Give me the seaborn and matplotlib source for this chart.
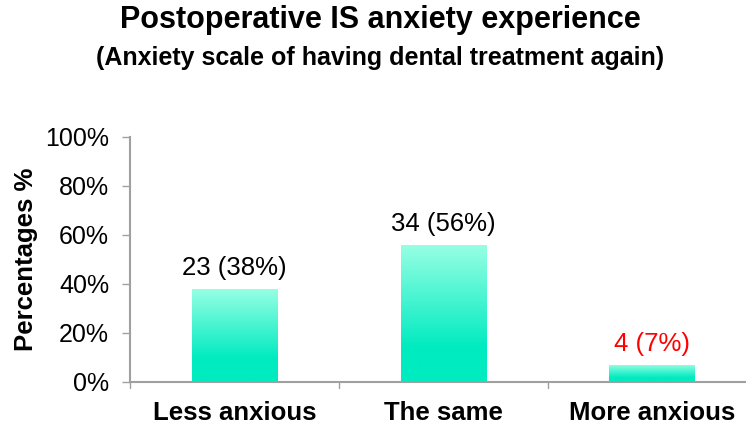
import numpy as np
import pandas as pd
import matplotlib
matplotlib.use("Agg")
import matplotlib.pyplot as plt
from matplotlib.colors import LinearSegmentedColormap
import seaborn as sns

categories = ["Less anxious", "The same", "More anxious"]
counts = [23, 34, 4]
percentages = [38, 56, 7]
label_colors = ["black", "black", "red"]
y_ticks = [0, 20, 40, 60, 80, 100]

sns.set_theme(style="white")
plt.rcParams["font.family"] = ["Liberation Sans", "DejaVu Sans"]
plt.rcParams["text.color"] = "black"
plt.rcParams["axes.labelcolor"] = "black"
plt.rcParams["xtick.color"] = "black"
plt.rcParams["ytick.color"] = "black"

df = pd.DataFrame({"category": categories, "pct": percentages})

fig = plt.figure(figsize=(7.46, 4.28), dpi=100)
ax = fig.add_axes([0.1743, 0.1075, 0.826, 0.5725])

sns.barplot(data=df, x="category", y="pct", ax=ax, width=0.41,
            color="#00EBC0", linewidth=0, saturation=1)

# vertical gradient fill for each bar
cmap = LinearSegmentedColormap.from_list(
    "mint", [(0.0, "#00EBC0"), (0.25, "#00EBC0"), (1.0, "#98FFE4")])
grad = np.linspace(0, 1, 256).reshape(-1, 1)
for patch in ax.patches:
    x0, y0 = patch.get_x(), patch.get_y()
    w, h = patch.get_width(), patch.get_height()
    im = ax.imshow(grad, cmap=cmap, aspect="auto", origin="lower",
                   extent=(x0, x0 + w, y0, y0 + h), zorder=2)
    im.set_clip_path(patch)
    patch.set_facecolor("none")

for i, (c, p, col) in enumerate(zip(counts, percentages, label_colors)):
    ax.text(i, p + 3.5, f"{c} ({p}%)", ha="center", va="bottom",
            fontsize=18.5, color=col)

ax.set_xlim(-0.5, 2.45)
ax.set_ylim(0, 100)
ax.set_yticks(y_ticks)
ax.set_yticklabels([f"{t}%" for t in y_ticks], fontsize=18)
ax.set_xticks(range(len(categories)))
ax.set_xticklabels(categories, fontsize=18.5, fontweight="bold")
ax.tick_params(axis="x", length=0, pad=14)
ax.tick_params(axis="y", length=6, width=1, color="#A0A0A0", left=True,
               labelcolor="black", pad=9)

# category separator ticks on the x axis
for xb in [-0.5, 0.5, 1.5]:
    ax.plot([xb, xb], [0, -2.5], color="#A0A0A0", lw=1, clip_on=False)

ax.set_xlabel("")
ax.set_ylabel("Percentages %", fontsize=18.5, fontweight="bold")
ax.yaxis.set_label_coords(-0.149, 0.5)

for s in ["top", "right"]:
    ax.spines[s].set_visible(False)
for s in ["left", "bottom"]:
    ax.spines[s].set_color("#A0A0A0")
    ax.spines[s].set_linewidth(1.5)

fig.text(0.51, 0.953, "Postoperative IS anxiety experience", ha="center",
         va="center", fontsize=22, fontweight="bold")
fig.text(0.51, 0.864, "(Anxiety scale of having dental treatment again)",
         ha="center", va="center", fontsize=18, fontweight="bold")

fig.savefig("out.png", dpi=100)
